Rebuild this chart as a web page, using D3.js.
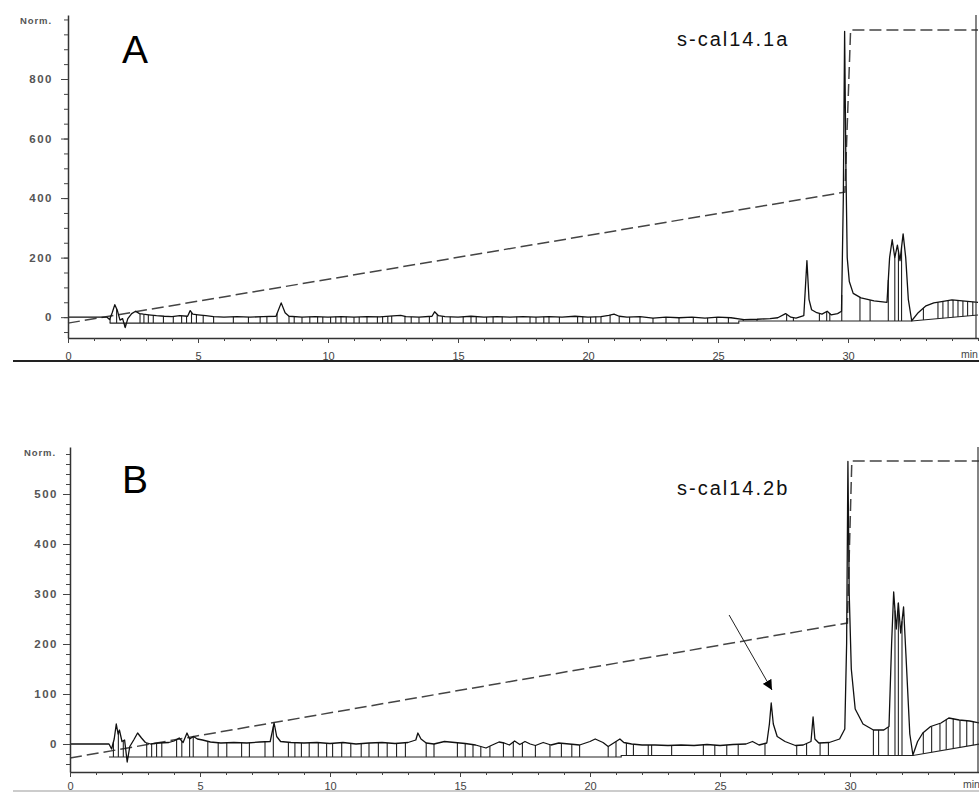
<!DOCTYPE html>
<html><head><meta charset="utf-8">
<script src="https://cdn.jsdelivr.net/npm/d3@7"></script>
<style>
body{margin:0;background:#fff;}
svg{display:block;}
text{font-family:"Liberation Sans",Arial,sans-serif;}
</style></head>
<body><svg id="c" width="979" height="792"></svg>
<script>
// ---------- DATA ----------
const xTickLabels = [0,5,10,15,20,25,30];
const yTicksA = [0,200,400,600,800];
const yTicksB = [0,100,200,300,400,500];

// Panel A signal [time (min), value (Norm.)]
const signalA = [[0,0],[1.5,0],[1.6,-8],[1.7,15],[1.8,42],[1.9,22],[2.0,-10],[2.1,-5],[2.2,-35],[2.3,-5],[2.45,12],[2.6,20],[2.75,12],[2.9,10],[3.1,8],[3.4,5],[3.7,3],[4.0,2],[4.3,5],[4.6,3],[4.7,22],[4.8,10],[5.0,8],[5.3,5],[5.6,2],[6.0,0],[6.5,2],[7.0,0],[7.5,2],[8.0,3],[8.2,48],[8.35,15],[8.5,3],[9.0,0],[9.5,2],[10,0],[10.5,2],[11,0],[11.5,2],[12,1],[12.5,4],[12.8,6],[13.0,2],[13.5,0],[14.0,3],[14.1,18],[14.25,5],[14.5,2],[15,0],[15.5,3],[16,0],[16.5,2],[17,0],[17.5,2],[18,0],[18.5,2],[19,0],[19.5,3],[20,0],[20.5,2],[20.8,6],[21.0,10],[21.2,3],[21.5,0],[22,2],[22.5,-3],[23,0],[23.5,-2],[24,0],[24.5,-3],[25,0],[25.5,-2],[26,-8],[26.5,-7],[27.0,-5],[27.3,-2],[27.6,12],[27.8,0],[28.0,-3],[28.3,5],[28.42,190],[28.5,60],[28.6,25],[28.8,15],[29.0,10],[29.2,20],[29.35,8],[29.6,12],[29.75,20],[29.82,400],[29.87,960],[29.92,500],[29.97,200],[30.05,120],[30.2,80],[30.5,65],[31.0,55],[31.5,50],[31.6,200],[31.7,260],[31.8,200],[31.9,242],[32.0,190],[32.12,280],[32.22,200],[32.32,60],[32.45,-12],[32.7,15],[33.0,38],[33.3,48],[33.6,52],[34.0,58],[34.5,54],[35,50]];
const gradientA = [[0,-20],[29.88,420],[30.1,965],[35,965]];
const baselineA = [[1.6,-20],[25.8,-20],[25.8,-13],[32.45,-13],[35,7]];
const dropsA = [1.62,1.87,2.19,2.77,2.92,3.09,3.28,3.67,4.05,4.37,4.56,4.75,4.94,5.2,5.6,6.36,6.94,7.39,7.65,8.04,8.5,8.7,9.0,9.3,9.6,9.8,10.1,10.3,10.5,10.7,11.0,11.2,11.5,11.9,12.1,12.3,12.45,12.96,13.2,13.5,13.9,14.2,14.4,14.7,15.2,15.5,15.7,16.1,16.35,16.7,17.26,17.77,18.0,18.3,18.5,18.9,19.6,19.8,20.1,20.3,20.5,20.85,21.2,21.6,22.0,22.5,23.0,23.5,24.05,24.6,24.95,25.4,25.97,26.5,27.64,27.9,28.9,29.18,29.3,29.76,30.46,30.85,31.55,31.8,31.94,32.06,32.9,33.46,33.65,33.85,34.04,34.23,34.42,34.6,34.8];

// Panel B signal
const signalB = [[0,0],[1.5,0],[1.6,-10],[1.7,10],[1.78,40],[1.85,20],[1.9,28],[2.0,5],[2.1,8],[2.2,-36],[2.3,-5],[2.45,8],[2.6,22],[2.75,12],[2.9,3],[3.1,0],[3.4,2],[3.8,3],[4.0,6],[4.2,12],[4.35,3],[4.5,22],[4.6,10],[4.75,15],[4.9,10],[5.1,8],[5.4,4],[5.8,2],[6.3,3],[6.8,2],[7.3,4],[7.7,5],[7.85,42],[7.95,15],[8.1,5],[8.5,3],[9,2],[9.5,3],[10,1],[10.5,3],[11,0],[11.5,2],[12,3],[12.5,1],[13.0,3],[13.3,8],[13.38,22],[13.5,10],[13.7,2],[14,0],[14.4,5],[14.8,3],[15.2,1],[15.6,-2],[16.0,-8],[16.2,-3],[16.5,4],[16.7,2],[16.9,-2],[17.1,6],[17.3,-1],[17.5,5],[17.7,0],[17.9,-3],[18.2,3],[18.5,-2],[18.8,2],[19.2,0],[19.6,-2],[20.0,5],[20.2,10],[20.5,3],[20.7,-5],[21.0,5],[21.15,10],[21.3,3],[21.6,0],[22,-2],[22.5,-2],[23,-3],[23.5,-2],[24,-3],[24.5,-1],[25,-3],[25.5,-1],[26,0],[26.25,5],[26.5,-2],[26.8,2],[26.9,40],[26.97,82],[27.05,40],[27.2,15],[27.5,5],[27.9,-3],[28.2,-2],[28.5,5],[28.58,54],[28.65,10],[28.8,2],[29.2,3],[29.6,10],[29.8,30],[29.87,200],[29.92,565],[29.97,300],[30.05,150],[30.2,70],[30.5,40],[30.9,28],[31.3,28],[31.5,35],[31.6,200],[31.68,304],[31.78,230],[31.86,282],[31.95,222],[32.06,274],[32.15,180],[32.3,20],[32.42,-22],[32.6,5],[32.8,22],[33.1,35],[33.5,42],[33.8,52],[34.2,48],[34.6,46],[35,42]];
const gradientB = [[0,-28],[29.9,242],[30.07,566],[35,566]];
const baselineB = [[1.5,-26],[21.2,-26],[21.2,-23],[32.42,-23],[35,0]];
const dropsB = [1.67,1.86,2.05,2.24,2.95,3.14,3.33,3.53,4.1,4.3,4.6,4.74,5.3,5.7,6.03,6.6,6.9,7.5,7.82,8.4,8.65,8.9,9.2,9.55,9.87,10.1,10.45,10.8,11.2,11.5,11.86,12.2,12.56,12.9,13.7,14.0,14.9,15.2,15.5,15.8,16.15,16.67,17.05,17.4,17.9,18.46,18.9,19.3,19.6,20.7,21.0,21.4,21.67,22.24,22.37,23.14,24.36,24.8,25.26,25.7,26.73,27.95,28.33,28.85,29.17,30.9,31.1,31.47,31.73,31.86,32.0,32.82,33.14,33.46,33.7,33.97,34.23,34.49,34.74];
const arrowB = [[25.35,258],[27.0,108]];

// ---------- DRAW ----------
const svg = d3.select("#c");
const defs = svg.append("defs");
defs.append("marker").attr("id","ah").attr("viewBox","0 0 10 10").attr("refX",10).attr("refY",5)
  .attr("markerWidth",10).attr("markerHeight",10).attr("markerUnits","userSpaceOnUse").attr("orient","auto")
  .append("path").attr("d","M0,0 L10,5 L0,10 Z").attr("fill","#000");

function interp(arr, t){
  for(let i=0;i<arr.length-1;i++){
    const a=arr[i], b=arr[i+1];
    if(t>=a[0] && t<=b[0]){
      if(b[0]===a[0]) return b[1];
      return a[1]+(b[1]-a[1])*(t-a[0])/(b[0]-a[0]);
    }
  }
  return arr[arr.length-1][1];
}

function panel(cfg){
  const {x, y, signal, gradient, baseline, drops, yTicks, minorStep, label, name, sepY, sepColor, sepW, nameY} = cfg;
  const g = svg.append("g");
  const line = d3.line().x(d=>x(d[0])).y(d=>y(d[1]));

  g.append("path").datum(gradient).attr("d",line).attr("fill","none")
    .attr("stroke","#444").attr("stroke-width",1.5).attr("stroke-dasharray","12,5");
  g.append("path").datum(baseline).attr("d",line).attr("fill","none")
    .attr("stroke","#222").attr("stroke-width",1.1);
  g.selectAll("line.drop").data(drops).join("line").attr("class","drop")
    .attr("x1",d=>x(d)).attr("x2",d=>x(d))
    .attr("y1",d=>y(interp(signal,d))).attr("y2",d=>y(interp(baseline,d)))
    .attr("stroke","#222").attr("stroke-width",1.1);
  g.append("path").datum(signal).attr("d",line).attr("fill","none")
    .attr("stroke","#111").attr("stroke-width",1.3).attr("stroke-linejoin","round");

  // y axis
  const y0 = y.range()[0], y1 = y.range()[1];
  const minor = d3.range(Math.ceil(y.domain()[0]/minorStep)*minorStep, y.domain()[1]+0.1, minorStep);
  const ya = g.append("g").attr("transform",`translate(${x.range()[0]},0)`)
    .call(d3.axisLeft(y).tickValues(minor).tickSize(4).tickSizeOuter(0).tickFormat(""));
  ya.select(".domain").attr("stroke","#333").attr("stroke-width",1.5);
  ya.selectAll(".tick line").attr("stroke","#444");
  const yb = g.append("g").attr("transform",`translate(${x.range()[0]},0)`)
    .call(d3.axisLeft(y).tickValues(yTicks).tickSize(7).tickPadding(cfg.yPad).tickSizeOuter(0));
  yb.select(".domain").remove();
  yb.selectAll(".tick line").attr("stroke","#444");
  yb.selectAll("text").attr("font-size",11.5).attr("font-weight","bold").attr("fill","#555")
    .attr("letter-spacing","1.5px");
  g.append("text").attr("x",cfg.normX).attr("y",y1+9).attr("text-anchor","end")
    .attr("font-size",9.5).attr("fill","#555").attr("font-weight","bold").attr("letter-spacing","0.9px").text("Norm.");

  // x axis
  const xm = g.append("g").attr("transform",`translate(0,${y0})`)
    .call(d3.axisBottom(x).tickValues(d3.range(0,36,1)).tickSize(3).tickSizeOuter(0).tickFormat(""));
  xm.select(".domain").attr("stroke","#333").attr("stroke-width",1.5);
  xm.selectAll(".tick line").attr("stroke","#444");
  const xM = g.append("g").attr("transform",`translate(0,${y0})`)
    .call(d3.axisBottom(x).tickValues(xTickLabels).tickSize(5).tickPadding(cfg.xPad).tickSizeOuter(0));
  xM.select(".domain").remove();
  xM.selectAll(".tick line").attr("stroke","#444");
  xM.selectAll("text").attr("font-size",11).attr("fill","#444");
  g.append("text").attr("x",x(35)-17).attr("y",y0+cfg.minDy).attr("font-size",10.5).attr("fill","#444").text("min");

  // right frame
  g.append("line").attr("x1",x.range()[1]-2).attr("x2",x.range()[1]-2).attr("y1",y1).attr("y2",y0)
    .attr("stroke","#333").attr("stroke-width",1.2);
  // separator line
  g.append("line").attr("x1",13).attr("x2",979).attr("y1",sepY).attr("y2",sepY)
    .attr("stroke",sepColor).attr("stroke-width",sepW);

  g.append("text").attr("x",122).attr("y",cfg.letterY).attr("font-size",39).attr("fill","#000").text(label);
  g.append("text").attr("x",677).attr("y",nameY).attr("font-size",20).attr("letter-spacing","2px").attr("fill","#111").text(name);
  return g;
}

const xA = d3.scaleLinear().domain([0,35]).range([68,978]);
const yA = d3.scaleLinear().domain([-70,1015]).range([338,15]);
panel({x:xA,y:yA,signal:signalA,gradient:gradientA,baseline:baselineA,drops:dropsA,yTicks:yTicksA,minorStep:50,
  label:"A",name:"s-cal14.1a",sepY:361,sepColor:"#222",sepW:2,nameY:46,letterY:63,yPad:8,normX:52,xPad:9,minDy:20});

const xB = d3.scaleLinear().domain([0,35]).range([70,980]);
const yB = d3.scaleLinear().domain([-56,594]).range([772,447]);
const gB = panel({x:xB,y:yB,signal:signalB,gradient:gradientB,baseline:baselineB,drops:dropsB,yTicks:yTicksB,minorStep:20,
  label:"B",name:"s-cal14.2b",sepY:791,sepColor:"#bbb",sepW:1.5,nameY:495,letterY:493,yPad:5,normX:56,xPad:5,minDy:16});
gB.append("line").attr("x1",xB(arrowB[0][0])).attr("y1",yB(arrowB[0][1]))
  .attr("x2",xB(arrowB[1][0])).attr("y2",yB(arrowB[1][1]))
  .attr("stroke","#222").attr("stroke-width",1).attr("marker-end","url(#ah)");
</script></body></html>
